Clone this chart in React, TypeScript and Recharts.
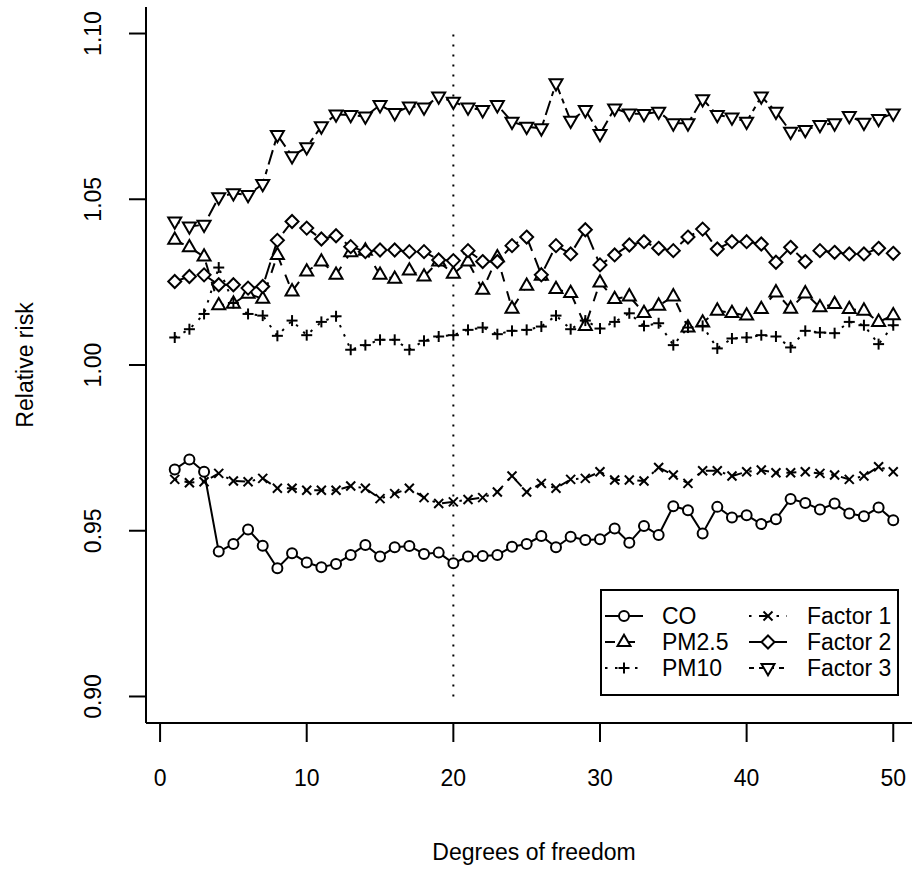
import React from 'react'
import { LineChart, Line, XAxis, YAxis, ReferenceLine } from 'recharts'

const degrees = [1, 2, 3, 4, 5, 6, 7, 8, 9, 10, 11, 12, 13, 14, 15, 16, 17, 18, 19, 20, 21, 22, 23, 24, 25, 26, 27, 28, 29, 30, 31, 32, 33, 34, 35, 36, 37, 38, 39, 40, 41, 42, 43, 44, 45, 46, 47, 48, 49, 50]

const co = [0.9685, 0.9715, 0.9678, 0.9437, 0.946, 0.9504, 0.9455, 0.9387, 0.9432, 0.9404, 0.939, 0.94, 0.9427, 0.9457, 0.9422, 0.945, 0.9454, 0.943, 0.9434, 0.9402, 0.9422, 0.9424, 0.9427, 0.9452, 0.946, 0.9484, 0.945, 0.9482, 0.9472, 0.9474, 0.9507, 0.9464, 0.9514, 0.9487, 0.9574, 0.9562, 0.9492, 0.9572, 0.954, 0.9547, 0.952, 0.9535, 0.9596, 0.9584, 0.9564, 0.9582, 0.9552, 0.9544, 0.957, 0.9532]
const pm25 = [1.0378, 1.0355, 1.0327, 1.018, 1.0185, 1.0215, 1.02, 1.0332, 1.0222, 1.0282, 1.0312, 1.0272, 1.034, 1.0345, 1.0272, 1.026, 1.0285, 1.0267, 1.0312, 1.0275, 1.0312, 1.0227, 1.0325, 1.017, 1.0239, 1.0269, 1.0229, 1.0217, 1.0118, 1.0249, 1.0199, 1.0207, 1.0157, 1.0179, 1.0207, 1.0113, 1.0128, 1.0164, 1.0157, 1.0149, 1.0169, 1.0219, 1.017, 1.0216, 1.0174, 1.0184, 1.0169, 1.0164, 1.013, 1.015]
const pm10 = [1.0083, 1.0108, 1.0154, 1.0294, 1.0187, 1.0154, 1.0149, 1.0088, 1.0134, 1.009, 1.013, 1.0147, 1.0046, 1.006, 1.0076, 1.0076, 1.0046, 1.0073, 1.0086, 1.009, 1.0106, 1.0113, 1.0093, 1.0103, 1.0106, 1.0116, 1.0149, 1.0108, 1.0134, 1.011, 1.013, 1.0156, 1.0118, 1.0126, 1.006, 1.0113, 1.0118, 1.005, 1.008, 1.0083, 1.009, 1.0086, 1.0053, 1.0103, 1.0098, 1.0096, 1.013, 1.012, 1.0063, 1.012]
const factor1 = [0.9655, 0.9645, 0.9648, 0.9673, 0.965, 0.9648, 0.9658, 0.9628, 0.9628, 0.9622, 0.9622, 0.9622, 0.9635, 0.9628, 0.9597, 0.9612, 0.9628, 0.96, 0.9582, 0.9587, 0.9594, 0.96, 0.9617, 0.9665, 0.9617, 0.9643, 0.9628, 0.9655, 0.9658, 0.9678, 0.9653, 0.9653, 0.965, 0.9691, 0.9668, 0.9643, 0.9681, 0.9681, 0.9665, 0.9678, 0.9683, 0.9675, 0.9675, 0.9678, 0.9673, 0.9668, 0.9655, 0.9665, 0.9693, 0.9678]
const factor2 = [1.0252, 1.0267, 1.0272, 1.0242, 1.0242, 1.0232, 1.0237, 1.0376, 1.0433, 1.0413, 1.038, 1.039, 1.0357, 1.0342, 1.0347, 1.0347, 1.0342, 1.0342, 1.0317, 1.0315, 1.0345, 1.0312, 1.0312, 1.036, 1.0386, 1.0272, 1.036, 1.0335, 1.0408, 1.0302, 1.0332, 1.0362, 1.0372, 1.0352, 1.0345, 1.0386, 1.041, 1.035, 1.0372, 1.0372, 1.0365, 1.031, 1.0355, 1.0312, 1.0345, 1.034, 1.0335, 1.0335, 1.0352, 1.0337]
const factor3 = [1.0433, 1.0418, 1.0423, 1.0506, 1.0518, 1.0513, 1.0546, 1.0694, 1.063, 1.0657, 1.072, 1.0756, 1.0754, 1.075, 1.0784, 1.076, 1.078, 1.0777, 1.081, 1.0794, 1.0777, 1.0769, 1.0784, 1.0734, 1.0719, 1.0714, 1.085, 1.0737, 1.0769, 1.0697, 1.0774, 1.0759, 1.0757, 1.0764, 1.0729, 1.0729, 1.0802, 1.0754, 1.0747, 1.0734, 1.081, 1.0764, 1.0704, 1.0709, 1.0724, 1.0729, 1.0751, 1.0731, 1.0742, 1.0759]

const xTicks = [0, 10, 20, 30, 40, 50]
const yTicks = [0.9, 0.95, 1.0, 1.05, 1.1]
const chosenDf = 20

const FONT = '"Liberation Sans", Arial, Helvetica, sans-serif'

type Shape = 'circle' | 'triUp' | 'plus' | 'cross' | 'diamond' | 'triDown'

const series: { key: string; name: string; shape: Shape; dash?: string }[] = [
    { key: 'co', name: 'CO', shape: 'circle' },
    { key: 'pm25', name: 'PM2.5', shape: 'triUp', dash: '10 10' },
    { key: 'pm10', name: 'PM10', shape: 'plus', dash: '2.5 7.5' },
    { key: 'factor1', name: 'Factor 1', shape: 'cross', dash: '2.5 7.5 10 7.5' },
    { key: 'factor2', name: 'Factor 2', shape: 'diamond', dash: '17.5 7.5' },
    { key: 'factor3', name: 'Factor 3', shape: 'triDown', dash: '5 5 15 5' },
]

const data = degrees.map((df, i) => ({
    df,
    co: co[i],
    pm25: pm25[i],
    pm10: pm10[i],
    factor1: factor1[i],
    factor2: factor2[i],
    factor3: factor3[i],
}))

function Marker({ cx, cy, shape }: { cx: number; cy: number; shape: Shape }) {
    const s = { stroke: '#000', strokeWidth: 2, fill: '#fff' }
    switch (shape) {
        case 'circle':
            return <circle cx={cx} cy={cy} r={5} {...s} />
        case 'triUp':
            return <polygon points={`${cx},${cy - 7.3} ${cx - 6.5},${cy + 4} ${cx + 6.5},${cy + 4}`} {...s} />
        case 'triDown':
            return <polygon points={`${cx},${cy + 7.3} ${cx - 6.5},${cy - 4} ${cx + 6.5},${cy - 4}`} {...s} />
        case 'diamond':
            return <polygon points={`${cx},${cy - 6.5} ${cx + 6.5},${cy} ${cx},${cy + 6.5} ${cx - 6.5},${cy}`} {...s} />
        case 'plus':
            return (
                <g stroke="#000" strokeWidth={2}>
                    <line x1={cx - 5.5} y1={cy} x2={cx + 5.5} y2={cy} />
                    <line x1={cx} y1={cy - 5.5} x2={cx} y2={cy + 5.5} />
                </g>
            )
        default:
            return (
                <g stroke="#000" strokeWidth={2}>
                    <line x1={cx - 4.5} y1={cy - 4.5} x2={cx + 4.5} y2={cy + 4.5} />
                    <line x1={cx - 4.5} y1={cy + 4.5} x2={cx + 4.5} y2={cy - 4.5} />
                </g>
            )
    }
}

const YTick = ({ x, y, payload }: any) => {
    const bx = x - 26
    return (
        <text x={bx} y={y} transform={`rotate(-90 ${bx} ${y})`} textAnchor="middle" fontSize={23} fill="#000">
            {Number(payload.value).toFixed(2)}
        </text>
    )
}

const YTitle = ({ viewBox }: any) => {
    const cy = viewBox ? viewBox.y + viewBox.height / 2 : 365
    return (
        <text x={33} y={cy} transform={`rotate(-90 33 ${cy})`} textAnchor="middle" fontSize={23} fill="#000">
            Relative risk
        </text>
    )
}

const XTitle = ({ viewBox }: any) => {
    const cx = viewBox ? viewBox.x + viewBox.width / 2 : 534
    return (
        <text x={cx} y={860} textAnchor="middle" fontSize={23} fill="#000">
            Degrees of freedom
        </text>
    )
}

// legend box in the lower right corner, R style
function LegendBox() {
    const rows = [27, 53, 79]
    const cols = [{ sym: 24, text: 62 }, { sym: 168, text: 207 }]
    return (
        <div
            style={{
                position: 'absolute', left: 600, top: 589, width: 295, height: 103,
                border: '2px solid #000', background: '#fff',
            }}
        >
            {series.map((s, i) => {
                const col = cols[Math.floor(i / 3)]
                const row = rows[i % 3]
                return (
                    <React.Fragment key={s.key}>
                        <svg
                            width={40} height={20}
                            style={{ position: 'absolute', left: col.sym - 20 - 2, top: row - 10 - 2 }}
                        >
                            <line x1={1} y1={10} x2={39} y2={10} stroke="#000" strokeWidth={2} strokeDasharray={s.dash} />
                            <Marker cx={20} cy={10} shape={s.shape} />
                        </svg>
                        <span
                            style={{
                                position: 'absolute', left: col.text - 2, top: row - 14 - 2,
                                fontSize: 23, lineHeight: '28px', whiteSpace: 'nowrap',
                            }}
                        >
                            {s.name}
                        </span>
                    </React.Fragment>
                )
            })}
        </div>
    )
}

export default function App() {
    return (
        <div
            style={{
                position: 'absolute', left: 0, top: 0, width: 912, height: 871,
                overflow: 'hidden', background: '#fff', fontFamily: FONT,
            }}
        >
            <LineChart width={922} height={871} data={data} margin={{ top: 7, right: 0, bottom: 0, left: 0 }}>
                <XAxis
                    xAxisId="top"
                    orientation="top"
                    type="number"
                    domain={[-0.96, 51.96]}
                    height={0}
                    tick={false}
                    tickLine={false}
                    axisLine={{ stroke: '#000', strokeWidth: 2 }}
                />
                <XAxis
                    type="number"
                    dataKey="df"
                    domain={[-0.96, 51.96]}
                    ticks={xTicks}
                    allowDataOverflow
                    height={148}
                    tickSize={19}
                    tickMargin={28}
                    axisLine={{ stroke: '#000', strokeWidth: 2 }}
                    tickLine={{ stroke: '#000', strokeWidth: 2 }}
                    tick={{ fill: '#000', fontSize: 23 }}
                    label={<XTitle />}
                />
                <YAxis
                    type="number"
                    domain={[0.892, 1.108]}
                    ticks={yTicks}
                    allowDataOverflow
                    width={146}
                    tickSize={17}
                    axisLine={{ stroke: '#000', strokeWidth: 2 }}
                    tickLine={{ stroke: '#000', strokeWidth: 2 }}
                    tick={<YTick />}
                    label={<YTitle />}
                />
                <ReferenceLine
                    segment={[{ x: chosenDf, y: 0.9 }, { x: chosenDf, y: 1.1 }]}
                    stroke="#000"
                    strokeWidth={2}
                    strokeDasharray="2 8"
                />
                {series.map((s) => (
                    <Line
                        key={s.key}
                        dataKey={s.key}
                        name={s.name}
                        type="linear"
                        stroke="#000"
                        strokeWidth={2}
                        strokeDasharray={s.dash}
                        isAnimationActive={false}
                        dot={(p: any) => <Marker key={`${s.key}-${p.index}`} cx={p.cx} cy={p.cy} shape={s.shape} />}
                        activeDot={false}
                    />
                ))}
            </LineChart>
            <LegendBox />
        </div>
    )
}
